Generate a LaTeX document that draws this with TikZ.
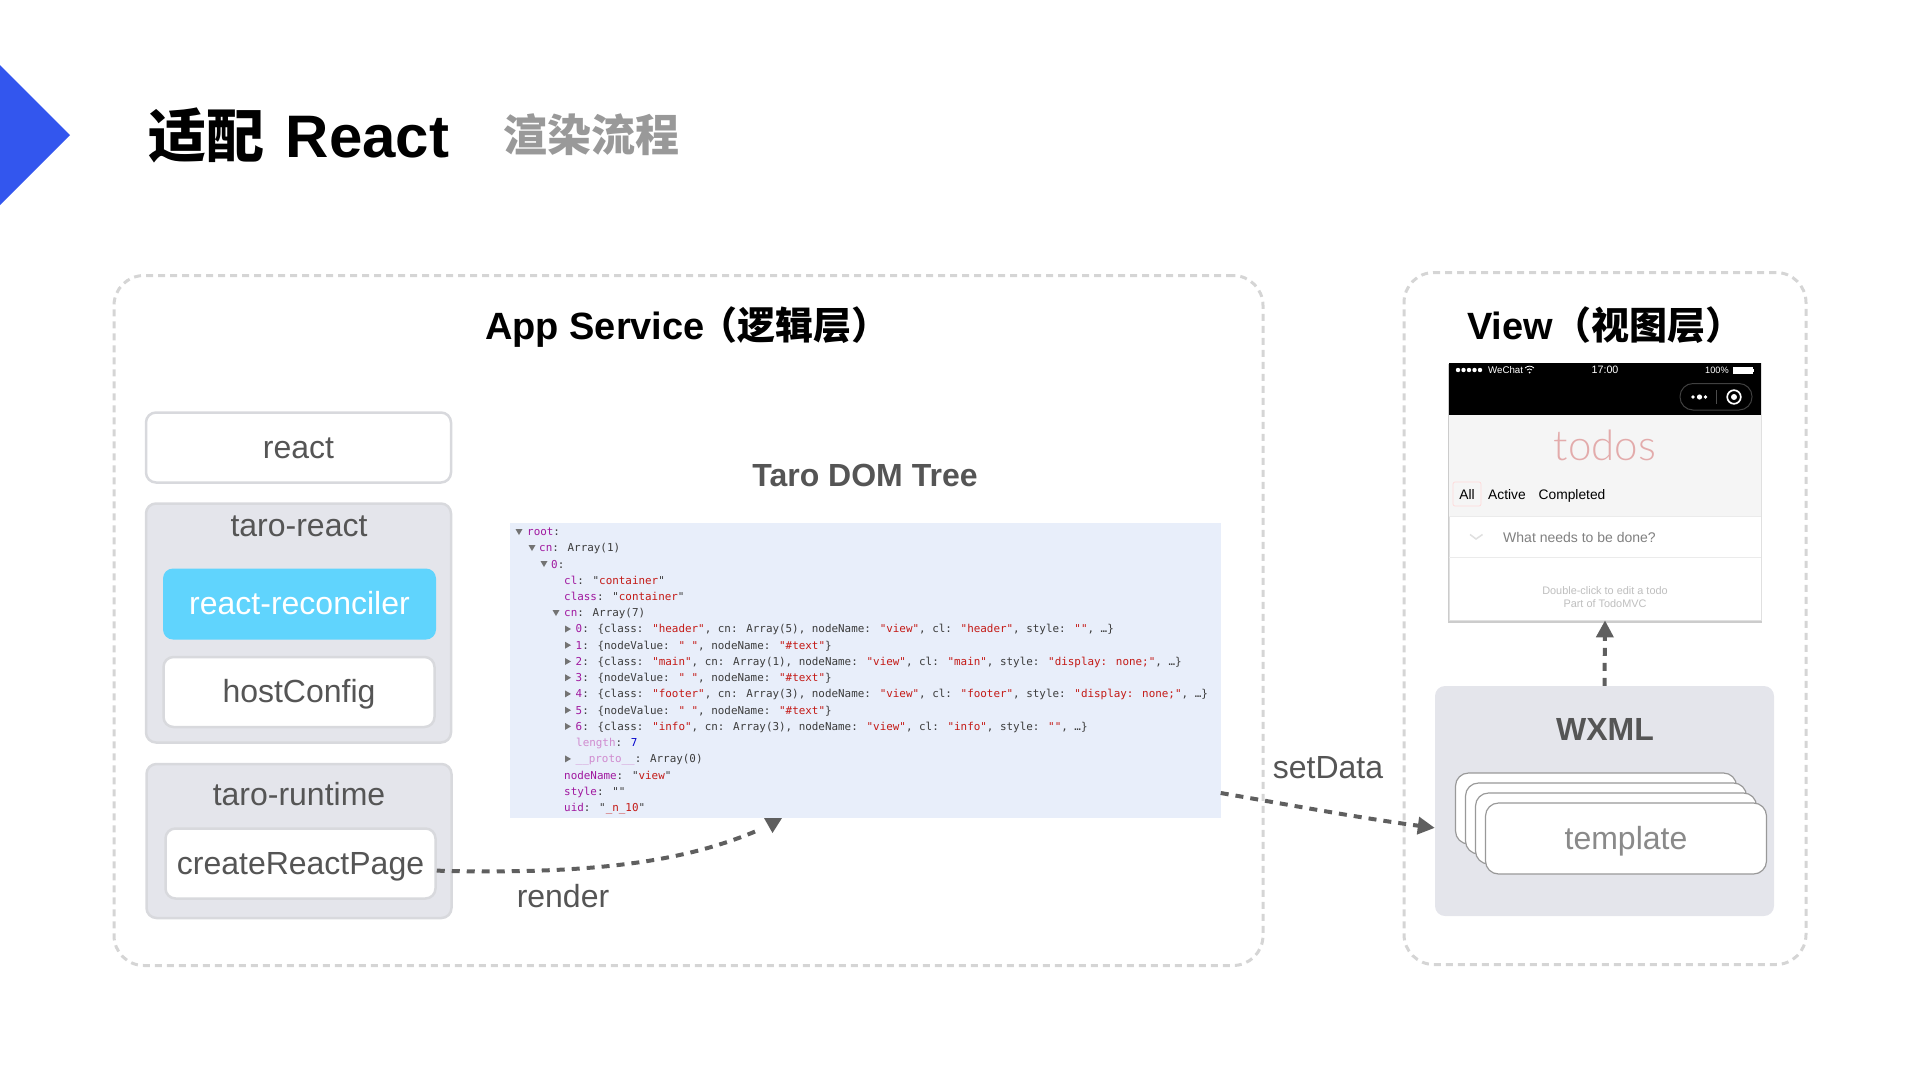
\documentclass[tikz,border=0pt]{standalone}
\usepackage{fontspec}
\usepackage{xcolor}
\usepackage{tikz}
\usetikzlibrary{arrows.meta}
\usetikzlibrary{shadows}
\setmainfont{Liberation Sans}
\newfontfamily\cjkfont{Noto Sans CJK SC}
\newfontfamily\codefont{DejaVu Sans Mono}
\newfontfamily\todofont{Lato Light}
\definecolor{titleblue}{HTML}{3356EE}
\definecolor{labelgray}{HTML}{555555}
\definecolor{subgray}{HTML}{999999}
\definecolor{dashgray}{HTML}{D5D5D5}
\definecolor{panelgray}{HTML}{E4E5EB}
\definecolor{edgegray}{HTML}{D8D9DD}
\definecolor{reactblue}{HTML}{60D4FD}
\definecolor{codeblue}{HTML}{E8EEFA}
\definecolor{flowgray}{HTML}{5F5F5F}
\definecolor{keypurple}{HTML}{A0189F}
\definecolor{strred}{HTML}{C41A16}
\definecolor{previewgray}{HTML}{3C3C3C}
\definecolor{todopink}{HTML}{E3ABAB}
\newcommand{\keytxt}[1]{\textcolor{keypurple}{#1}}
\newcommand{\strtxt}[1]{\textcolor{strred}{#1}}
\tikzstyle{layerbox}=[draw=dashgray, line width=3pt, dash pattern=on 7pt off 5pt, rounded corners=30pt]
\tikzstyle{whitebox}=[draw=edgegray, line width=2.5pt, fill=white, rounded corners=10pt, text=labelgray, inner xsep=0pt, text height=28.5pt, text depth=7pt, font=\fontsize{32}{38}\selectfont]
\tikzstyle{graybox}=[draw=edgegray, line width=2.5pt, fill=panelgray, rounded corners=10pt]
\tikzstyle{grouplabel}=[inner sep=0pt, text=labelgray, font=\fontsize{32}{38}\selectfont]
\tikzstyle{headlabel}=[inner sep=0pt, text=black, font=\fontsize{38}{44}\selectfont\bfseries]
\tikzstyle{stacklabel}=[inner sep=0pt, text=labelgray, font=\fontsize{32}{38}\selectfont\bfseries]
\tikzstyle{templatecard}=[draw=subgray, line width=1.2pt, fill=white, rounded corners=13pt, minimum width=281pt, minimum height=71pt, inner xsep=0pt, text height=29pt, text depth=7pt, text=subgray!90!black, font=\fontsize{32}{38}\selectfont]
\tikzstyle{coderow}=[inner sep=0pt, anchor=base west, text=previewgray, font=\codefont\fontsize{10.9}{14}\selectfont]
\tikzstyle{treetri}=[fill=black!55]
\tikzstyle{flowline}=[draw=flowgray, line width=4pt, dash pattern=on 8pt off 7pt]
\tikzstyle{flowarrow}=[flowline, -{Triangle[length=17pt, width=17pt, fill=flowgray]}]
\tikzstyle{phonetext}=[inner sep=0pt, anchor=base, text=black, font=\fontsize{13.8}{16}\selectfont]
\begin{document}
\begin{tikzpicture}[x=1pt, y=-1pt]
\useasboundingbox (0,0) rectangle (1920,1080);
\fill[titleblue] (0,65) -- (70,135) -- (0,205) -- cycle;
\node [inner sep=0pt, anchor=west, font=\fontsize{60}{70}\selectfont\bfseries] (title) at (148,135) {{\cjkfont\fontsize{58}{70}\selectfont 适配}\hspace{5pt} React};
\node [inner sep=0pt, anchor=west, text=subgray, font=\cjkfont\fontsize{44}{50}\selectfont\bfseries] (subtitle) at (503.5,135) {渲染流程};

\node [layerbox, minimum width=1149pt, minimum height=690pt] (appservice) at (688.5,620.5) {};
\node [layerbox, minimum width=402pt, minimum height=692pt] (viewlayer) at (1605,618.5) {};
\node [headlabel, anchor=base west] (apptitle) at (485,339) {App Service\hspace{-5pt}{\cjkfont （逻辑层）}};
\node [headlabel, anchor=base west] (viewtitle) at (1467,339) {View{\cjkfont （视图层）}};

\node [whitebox, minimum width=305pt, minimum height=70pt] (react) at (298.5,447.5) {react};
\node [graybox, minimum width=305pt, minimum height=239pt] (tarareact) at (298.5,623) {};
\node [grouplabel] (tarareactlabel) at (299,526.5) {taro-react};
\node [whitebox, draw=none, fill=reactblue, text=white, minimum width=273pt, minimum height=71pt] (reconciler) at (299.5,604) {react-reconciler};
\node [whitebox, minimum width=271pt, minimum height=70pt] (hostconfig) at (299,692) {hostConfig};
\node [graybox, minimum width=305pt, minimum height=154pt] (tararuntime) at (299,841) {};
\node [grouplabel] (tararuntimelabel) at (299,794) {taro-runtime};
\node [whitebox, minimum width=270pt, minimum height=70pt] (createpage) at (300.5,863.5) {createReactPage};

\node [inner sep=0pt, text=labelgray, font=\fontsize{32}{38}\selectfont\bfseries] (domtitle) at (865,475) {Taro DOM Tree};
\node [fill=codeblue, minimum width=711pt, minimum height=295pt, inner sep=0pt] (code) at (865,670.5) {};

\fill[treetri] (515.5,529) -- (522.5,529) -- (519,535) -- cycle;
\fill[treetri] (528.5,545) -- (535.5,545) -- (532,551) -- cycle;
\fill[treetri] (540.5,561) -- (547.5,561) -- (544,567) -- cycle;
\fill[treetri] (552.5,610) -- (559.5,610) -- (556,616) -- cycle;
\fill[treetri] (565,625.5) -- (571,629) -- (565,632.5) -- cycle;
\fill[treetri] (565,641.7) -- (571,645.2) -- (565,648.7) -- cycle;
\fill[treetri] (565,658) -- (571,661.5) -- (565,665) -- cycle;
\fill[treetri] (565,674.2) -- (571,677.7) -- (565,681.2) -- cycle;
\fill[treetri] (565,690.4) -- (571,693.9) -- (565,697.4) -- cycle;
\fill[treetri] (565,706.7) -- (571,710.2) -- (565,713.7) -- cycle;
\fill[treetri] (565,722.9) -- (571,726.4) -- (565,729.9) -- cycle;
\fill[treetri] (565,755.4) -- (571,758.9) -- (565,762.4) -- cycle;

\node [coderow] (row0) at (527,535.5) {\keytxt{root}:};
\node [coderow] (row1) at (539,551.7) {\keytxt{cn}: Array(1)};
\node [coderow] (row2) at (551,568) {\keytxt{0}:};
\node [coderow] (row3) at (564,584.2) {\keytxt{cl}: "\strtxt{container}"};
\node [coderow] (row4) at (564,600.5) {\keytxt{class}: "\strtxt{container}"};
\node [coderow] (row5) at (564,616.7) {\keytxt{cn}: Array(7)};
\node [coderow] (row6) at (575.5,632.9) {\keytxt{0}: \{class: \strtxt{"header"}, cn: Array(5), nodeName: \strtxt{"view"}, cl: \strtxt{"header"}, style: \strtxt{""}, …\}};
\node [coderow] (row7) at (575.5,649.2) {\keytxt{1}: \{nodeValue: \strtxt{" "}, nodeName: \strtxt{"\#text"}\}};
\node [coderow] (row8) at (575.5,665.4) {\keytxt{2}: \{class: \strtxt{"main"}, cn: Array(1), nodeName: \strtxt{"view"}, cl: \strtxt{"main"}, style: \strtxt{"display: none;"}, …\}};
\node [coderow] (row9) at (575.5,681.7) {\keytxt{3}: \{nodeValue: \strtxt{" "}, nodeName: \strtxt{"\#text"}\}};
\node [coderow] (row10) at (575.5,697.9) {\keytxt{4}: \{class: \strtxt{"footer"}, cn: Array(3), nodeName: \strtxt{"view"}, cl: \strtxt{"footer"}, style: \strtxt{"display: none;"}, …\}};
\node [coderow] (row11) at (575.5,714.1) {\keytxt{5}: \{nodeValue: \strtxt{" "}, nodeName: \strtxt{"\#text"}\}};
\node [coderow] (row12) at (575.5,730.4) {\keytxt{6}: \{class: \strtxt{"info"}, cn: Array(3), nodeName: \strtxt{"view"}, cl: \strtxt{"info"}, style: \strtxt{""}, …\}};
\node [coderow] (row13) at (576,746.6) {\textcolor{keypurple!50}{length}: \textcolor{blue!80!black}{7}};
\node [coderow] (row14) at (575.5,762.9) {\textcolor{keypurple!50}{\_\_proto\_\_}: Array(0)};
\node [coderow] (row15) at (564,779.1) {\keytxt{nodeName}: "\strtxt{view}"};
\node [coderow] (row16) at (564,795.3) {\keytxt{style}: ""};
\node [coderow] (row17) at (564,811.6) {\keytxt{uid}: "\strtxt{\_n\_10}"};

\node [draw=black!12, line width=0.8pt, fill=white, minimum width=312pt, minimum height=257pt, inner sep=0pt, drop shadow={shadow xshift=0pt, shadow yshift=-2pt, shadow scale=1.005, opacity=0.2, fill=black}] (phone) at (1605,491.5) {};
\fill[black!4] (1449,415) rectangle (1761,516);
\fill[black] (1449,363) rectangle (1761,415);
\draw[black!8, line width=1pt] (1449,516) -- (1761,516);
\draw[black!8, line width=1pt] (1449,557.5) -- (1761,557.5);
\fill[white] (1458,370) circle (2.2);
\fill[white] (1463.5,370) circle (2.2);
\fill[white] (1469,370) circle (2.2);
\fill[white] (1474.5,370) circle (2.2);
\fill[white] (1480,370) circle (2.2);
\node [inner sep=0pt, anchor=west, text=white, font=\fontsize{9.7}{12}\selectfont] (wechat) at (1488,370) {WeChat};
\draw[white, line width=0.8pt] (1525,368) .. controls (1528,365.5) and (1531,365.5) .. (1534,368);
\draw[white, line width=0.8pt] (1527,370) .. controls (1528.5,368.5) and (1530.5,368.5) .. (1532,370);
\fill[white] (1529.5,372.5) circle (1);
\node [inner sep=0pt, text=white, font=\fontsize{10.7}{12}\selectfont] (clock) at (1605,370) {17:00};
\node [inner sep=0pt, anchor=west, text=white, font=\fontsize{9.2}{12}\selectfont] (battery) at (1705,370) {100\%};
\draw[white, line width=0.6pt, fill=white] (1733.5,367) rectangle (1752,373.5);
\fill[white] (1752.5,369) rectangle (1754,371.5);
\draw[black!75, line width=1pt, rounded corners=13pt] (1680,383.5) rectangle (1752,410);
\fill[white] (1693,397) circle (1.9);
\fill[white] (1699.5,397) circle (2.6);
\fill[white] (1705.5,397) circle (1.9);
\draw[black!70, line width=0.8pt] (1716,390) -- (1716,404);
\draw[white, line width=1.7pt] (1734,397) circle (6.8);
\fill[white] (1734,397) circle (3);
\node [inner sep=0pt, text=todopink, font=\todofont\fontsize{42}{48}\selectfont] (todos) at (1605,445) {todos};
\node [draw=red!15, line width=0.7pt, rounded corners=2pt, minimum width=28pt, minimum height=24pt, inner sep=0pt] (allbtn) at (1467,494) {};
\node [phonetext] (alllabel) at (1467,499) {All};
\node [phonetext] (activelabel) at (1507,499) {Active};
\node [phonetext] (completedlabel) at (1572,499) {Completed};
\draw[black!12, line width=1.5pt] (1470,534.5) -- (1476,539) -- (1482.5,534.5);
\node [inner sep=0pt, anchor=west, text=black!50, font=\fontsize{14}{16}\selectfont] (todoinput) at (1503,537) {What needs to be done?};
\node [inner sep=0pt, text=black!25, font=\fontsize{10.9}{12}\selectfont] (hintone) at (1605,591) {Double-click to edit a todo};
\node [inner sep=0pt, text=black!25, font=\fontsize{10.9}{12}\selectfont] (hinttwo) at (1605,604) {Part of TodoMVC};

\node [fill=panelgray, rounded corners=10pt, minimum width=339pt, minimum height=230pt, inner sep=0pt] (wxml) at (1604.5,801) {};
\node [stacklabel] (wxmllabel) at (1605,729) {WXML};
\node [templatecard] (card1) at (1596,808.5) {};
\node [templatecard] (card2) at (1606,818.5) {};
\node [templatecard] (card3) at (1616,828.5) {};
\node [templatecard] (card4) at (1626,838.5) {template};

\node [inner sep=0pt, text=labelgray, font=\fontsize{32}{38}\selectfont] (renderlabel) at (563,896.5) {render};
\node [inner sep=0pt, text=labelgray, font=\fontsize{32}{38}\selectfont] (setdatalabel) at (1328,768) {setData};

\coordinate (rendertip) at (761,829);
\draw[flowline] (createpage.-3.6) .. controls (600,875) and (690,860) .. (rendertip);
\fill[flowgray] (764,818) -- (782,818) -- (772.5,833) -- cycle;
\draw[flowarrow] (code.-19.5) .. controls (1290,805) and (1360,818) .. (wxml.189.3);
\draw[flowarrow] (wxml.north) -- (phone.south);
\end{tikzpicture}
\end{document}
